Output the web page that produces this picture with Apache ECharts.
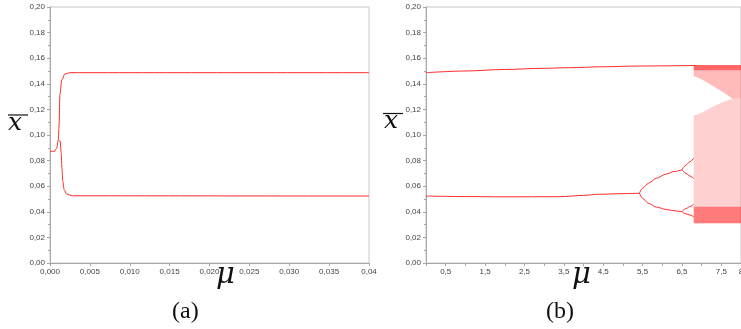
<!DOCTYPE html>
<html>
<head>
<meta charset="utf-8">
<script src="https://cdn.jsdelivr.net/npm/echarts@6/dist/echarts.min.js"></script>
<style>
  html, body { margin: 0; padding: 0; background: #fff; overflow: hidden; }
  #main { width: 741px; height: 329px; }
</style>
</head>
<body>
<div id="main"></div>
<script>
// panel (a): mu in [0, 0.04]
const aFlat = [[0, 0.0873], [0.0006, 0.0873]];
const aUpper = [[0.0006, 0.0873], [0.00084, 0.0896], [0.00104, 0.0961], [0.00113, 0.1067],
    [0.00125, 0.132], [0.00147, 0.143], [0.00188, 0.1477], [0.0025, 0.1487], [0.04, 0.1487]];
const aLower = [[0.00104, 0.0961], [0.00128, 0.0950], [0.00140, 0.0860], [0.00150, 0.0740],
    [0.00160, 0.0640], [0.00178, 0.0570], [0.0021, 0.0538], [0.0028, 0.0525], [0.04, 0.0523]];

// panel (b): mu in [0, 8]
const bUpper = [[0, 0.1487], [1, 0.1500], [2, 0.1512], [3, 0.1521], [3.64, 0.1526],
    [4.5, 0.1533], [5.4, 0.1539], [6.85, 0.1543]];
const bLower = [[0, 0.0523], [1, 0.0519], [2, 0.0517], [3.4, 0.0518], [4.0, 0.0528],
    [4.4, 0.0537], [5.0, 0.0542], [5.42, 0.0545]];
const bSplitUp = [[5.42, 0.0545], [5.5, 0.0585], [5.65, 0.0623], [5.85, 0.0662],
    [6.1, 0.0695], [6.3, 0.0715], [6.5, 0.0728]];
const bSplitDown = [[5.42, 0.0545], [5.5, 0.0505], [5.65, 0.0466], [5.85, 0.0437],
    [6.1, 0.0418], [6.3, 0.0408], [6.5, 0.0401]];
const bQuad = [
    [[6.5, 0.0728], [6.6, 0.0765], [6.7, 0.0790], [6.8, 0.0820]],
    [[6.5, 0.0728], [6.6, 0.0700], [6.7, 0.0680], [6.8, 0.0660]],
    [[6.5, 0.0401], [6.6, 0.0425], [6.7, 0.0440], [6.8, 0.0460]],
    [[6.5, 0.0401], [6.6, 0.0385], [6.7, 0.0375], [6.8, 0.0360]]
];

// chaotic region (b)
const chaosMu = [6.8, 6.86, 7.03, 7.28, 7.53, 7.78, 8.0];
const gapLow = [0.1156, 0.1156, 0.1177, 0.1221, 0.1255, 0.1286, 0.1286];
const gapHigh = [0.1455, 0.1455, 0.1430, 0.1385, 0.1338, 0.1286, 0.1286];
const chaosMin = 0.031;
const chaosMax = 0.1547;
const denseBottomTop = 0.044;
const denseTopBottom = 0.1505;

const yTicks = { min: 0, max: 0.2, interval: 0.02 };

const RED = '#ff2a2a';
const AXIS = '#a8a8a8';
const SERIF = '"Liberation Serif", "DejaVu Serif", serif';
const MATH = '"DejaVu Serif", "Liberation Serif", serif';

function comma(s) { return String(s).replace('.', ','); }

function branch(data, xi) {
    return {
        type: 'line', xAxisIndex: xi, yAxisIndex: xi, data: data,
        symbol: 'none', smooth: 0.3, smoothMonotone: 'x',
        lineStyle: { color: RED, width: 1 }, silent: true
    };
}

// a filled band between two boundaries, drawn through the axis scales
function band(lo, hi, color) {
    return {
        type: 'custom', xAxisIndex: 1, yAxisIndex: 1, silent: true, data: [[0]],
        renderItem: (params, api) => {
            const top = chaosMu.map((m, i) => api.coord([m, hi[i]]));
            const bottom = chaosMu.map((m, i) => api.coord([m, lo[i]])).reverse();
            return { type: 'polygon', shape: { points: top.concat(bottom) }, style: { fill: color } };
        }
    };
}

const flat = v => chaosMu.map(() => v);

function yAxis(gi) {
    return {
        type: 'value', gridIndex: gi, min: yTicks.min, max: yTicks.max, interval: yTicks.interval,
        axisLine: { show: true, lineStyle: { color: AXIS } },
        axisTick: { show: true, length: 3, lineStyle: { color: AXIS } },
        minorTick: { show: true, splitNumber: 2, length: 2, lineStyle: { color: AXIS } },
        splitLine: { show: false },
        axisLabel: {
            color: '#444', fontSize: 8, fontFamily: 'Liberation Sans', margin: 5,
            formatter: v => comma(v.toFixed(2))
        }
    };
}

function symbol(text, left, top, size) {
    return {
        type: 'text', left: left, top: top,
        style: { text: text, fontFamily: MATH, fontStyle: 'italic', fontSize: size, fill: '#111' }
    };
}

const chart = echarts.init(document.getElementById('main'));

chart.setOption({
    animation: false,
    backgroundColor: '#fff',
    grid: [
        { left: 50, top: 7, right: 372, bottom: 66, outerBoundsMode: 'none', show: true, borderColor: '#c8c8c8', borderWidth: 1 },
        { left: 426, top: 7, right: 0, bottom: 66, outerBoundsMode: 'none', show: true, borderColor: '#c8c8c8', borderWidth: 1 }
    ],
    xAxis: [
        {
            type: 'value', gridIndex: 0, min: 0, max: 0.04, interval: 0.005,
            axisLine: { lineStyle: { color: AXIS } },
            axisTick: { length: 3, lineStyle: { color: AXIS } },
            splitLine: { show: false },
            axisLabel: {
                color: '#444', fontSize: 8, fontFamily: 'Liberation Sans', margin: 5, interval: 0,
                formatter: v => Math.abs(v - 0.04) < 1e-9 ? '0,04' : comma(v.toFixed(3))
            }
        },
        {
            type: 'value', gridIndex: 1, min: 0, max: 8, interval: 0.5,
            axisLine: { lineStyle: { color: AXIS } },
            axisTick: { length: 3, lineStyle: { color: AXIS } },
            splitLine: { show: false },
            axisLabel: {
                color: '#444', fontSize: 8, fontFamily: 'Liberation Sans', margin: 5, interval: 0,
                formatter: v => Math.abs((v % 1) - 0.5) < 1e-6 ? comma(v) : (v === 8 ? '8' : '')
            }
        }
    ],
    yAxis: [yAxis(0), yAxis(1)],
    series: [
        branch(aFlat, 0),
        branch(aUpper, 0),
        branch(aLower, 0),
        band(flat(chaosMin), gapLow, 'rgba(255,40,40,0.22)'),
        band(gapHigh, flat(chaosMax), 'rgba(255,40,40,0.32)'),
        band(flat(chaosMin), flat(denseBottomTop), 'rgba(255,20,20,0.45)'),
        band(flat(denseTopBottom), flat(chaosMax), 'rgba(255,20,20,0.5)'),
        branch(bUpper, 1),
        branch(bLower, 1),
        branch(bSplitUp, 1),
        branch(bSplitDown, 1),
        ...bQuad.map(d => branch(d, 1))
    ],
    graphic: [
        // y-axis symbols (x with overline)
        symbol('x', 8, 111, 25),
        { type: 'line', shape: { x1: 8, y1: 115, x2: 28, y2: 115 }, style: { stroke: '#111', lineWidth: 1.2 } },
        symbol('x', 384, 109, 25),
        { type: 'line', shape: { x1: 383, y1: 113.5, x2: 403, y2: 113.5 }, style: { stroke: '#111', lineWidth: 1.2 } },
        // x-axis symbols
        symbol('μ', 216, 261, 29),
        symbol('μ', 572, 261, 29),
        // captions
        { type: 'text', left: 172, top: 300, style: { text: '(a)', fontFamily: SERIF, fontSize: 24, fill: '#111' } },
        { type: 'text', left: 546, top: 300, style: { text: '(b)', fontFamily: SERIF, fontSize: 24, fill: '#111' } }
    ]
});
</script>
</body>
</html>
